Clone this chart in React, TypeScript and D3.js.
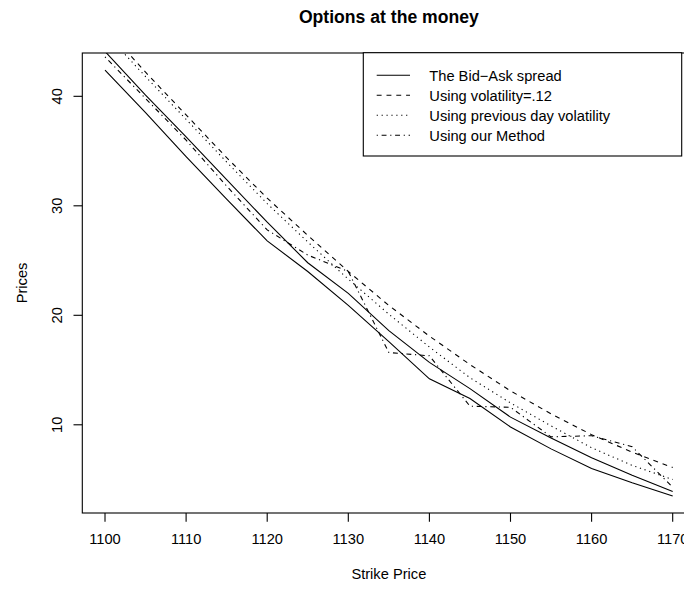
import React from 'react';
import * as d3 from 'd3';

const strikes = [1100, 1105, 1110, 1115, 1120, 1125, 1130, 1135, 1140, 1145, 1150, 1155, 1160, 1165, 1170];
const bid = [42.4, 38.5, 34.5, 30.6, 26.8, 24.0, 20.9, 17.6, 14.2, 12.4, 9.8, 7.8, 6.0, 4.7, 3.5];
const ask = [44.1, 40.1, 36.3, 32.4, 28.5, 24.8, 22.0, 18.6, 15.7, 13.3, 10.7, 8.8, 7.0, 5.4, 3.9];
const vol12 = [46.3, 42.2, 38.3, 34.4, 30.7, 27.3, 24.0, 20.9, 18.1, 15.5, 13.1, 11.0, 9.1, 7.5, 6.1];
const prevVol = [45.8, 41.8, 37.9, 34.0, 30.2, 26.7, 23.3, 20.1, 17.1, 14.3, 12.0, 9.9, 7.9, 6.3, 5.0];
const ourMethod = [43.6, 39.8, 36.0, 31.8, 27.8, 25.5, 24.0, 16.6, 16.3, 11.7, 11.6, 8.9, 9.0, 8.0, 4.3];

const xTicks = [1100, 1110, 1120, 1130, 1140, 1150, 1160, 1170];
const yTicks = [10, 20, 30, 40];
const legendLabels = ['The Bid\u2212Ask spread', 'Using volatility=.12', 'Using previous day volatility', 'Using our Method'];

const LTY_SOLID = 'none';
const LTY_DASH = '4.9,4.9';
const LTY_DOT = '1.2,3.7';
const LTY_DASHDOT = '1.2,3.7,4.9,3.7';
const legendDash = [LTY_SOLID, LTY_DASH, LTY_DOT, LTY_DASHDOT];

const FONT = '"Liberation Sans", Arial, Helvetica, sans-serif';

export default function App() {
  const W = 684, H = 590;
  const left = 82.3, right = 695.4, top = 53, bottom = 513;

  const [xa, xb] = d3.extent(strikes) as [number, number];
  const rx = xb - xa;
  const x = d3.scaleLinear().domain([xa - 0.04 * rx, xb + 0.04 * rx]).range([left, right]);
  const [ya, yb] = d3.extent(bid) as [number, number];
  const ry = yb - ya;
  const y = d3.scaleLinear().domain([ya - 0.04 * ry, yb + 0.04 * ry]).range([bottom, top]);

  const mk = (vals: number[]) =>
    d3.line<number>().x((_, i) => x(strikes[i])).y((d) => y(d))(vals) || '';

  const series = [
    { vals: bid, dash: LTY_SOLID },
    { vals: ask, dash: LTY_SOLID },
    { vals: vol12, dash: LTY_DASH },
    { vals: prevVol, dash: LTY_DOT },
    { vals: ourMethod, dash: LTY_DASHDOT },
  ];

  const cx = (left + right) / 2;
  const cy = (top + bottom) / 2;

  const lg = { x0: 363.3, y0: 52.7, x1: 681.7, y1: 156, row0: 75.3, step: 20, l0: 376.7, l1: 410, tx: 429.3 };

  return (
    <svg width={W} height={H} style={{ position: 'absolute', left: 0, top: 0, background: '#fff' }} fontFamily={FONT}>
      <rect x={0} y={0} width={W} height={H} fill="#fff" />
      <defs>
        <clipPath id="plotclip">
          <rect x={left} y={top} width={right - left} height={bottom - top} />
        </clipPath>
      </defs>
      <text x={cx} y={22.6} textAnchor="middle" fontSize={17.6} fontWeight="bold" fill="#000">
        Options at the money
      </text>
      <g clipPath="url(#plotclip)">
        {series.map((s, i) => (
          <path key={i} d={mk(s.vals)} fill="none" stroke="#000" strokeWidth={1.1}
            strokeDasharray={s.dash === 'none' ? undefined : s.dash} />
        ))}
      </g>
      <rect x={left} y={top} width={right - left} height={bottom - top} fill="none" stroke="#000" strokeWidth={1.1} />
      {xTicks.map((t) => (
        <g key={t}>
          <line x1={x(t)} x2={x(t)} y1={bottom} y2={bottom + 8.8} stroke="#000" strokeWidth={1.1} />
          <text x={x(t)} y={544} textAnchor="middle" fontSize={14.67} fill="#000">{t}</text>
        </g>
      ))}
      {yTicks.map((t) => (
        <g key={t}>
          <line x1={left - 8.8} x2={left} y1={y(t)} y2={y(t)} stroke="#000" strokeWidth={1.1} />
          <text transform={`translate(62,${y(t)}) rotate(-90)`} textAnchor="middle" fontSize={14.67} fill="#000">{t}</text>
        </g>
      ))}
      <text x={cx} y={579} textAnchor="middle" fontSize={14.67} fill="#000">Strike Price</text>
      <text transform={`translate(27,${cy}) rotate(-90)`} textAnchor="middle" fontSize={14.67} fill="#000">Prices</text>
      <rect x={lg.x0} y={lg.y0} width={lg.x1 - lg.x0} height={lg.y1 - lg.y0} fill="#fff" stroke="#000" strokeWidth={1.1} />
      {legendLabels.map((lab, i) => {
        const yy = lg.row0 + i * lg.step;
        return (
          <g key={lab}>
            <line x1={lg.l0} x2={lg.l1} y1={yy} y2={yy} stroke="#000" strokeWidth={1.1}
              strokeDasharray={legendDash[i] === 'none' ? undefined : legendDash[i]} />
            <text x={lg.tx} y={yy + 5.2} fontSize={14.67} fill="#000">{lab}</text>
          </g>
        );
      })}
    </svg>
  );
}
